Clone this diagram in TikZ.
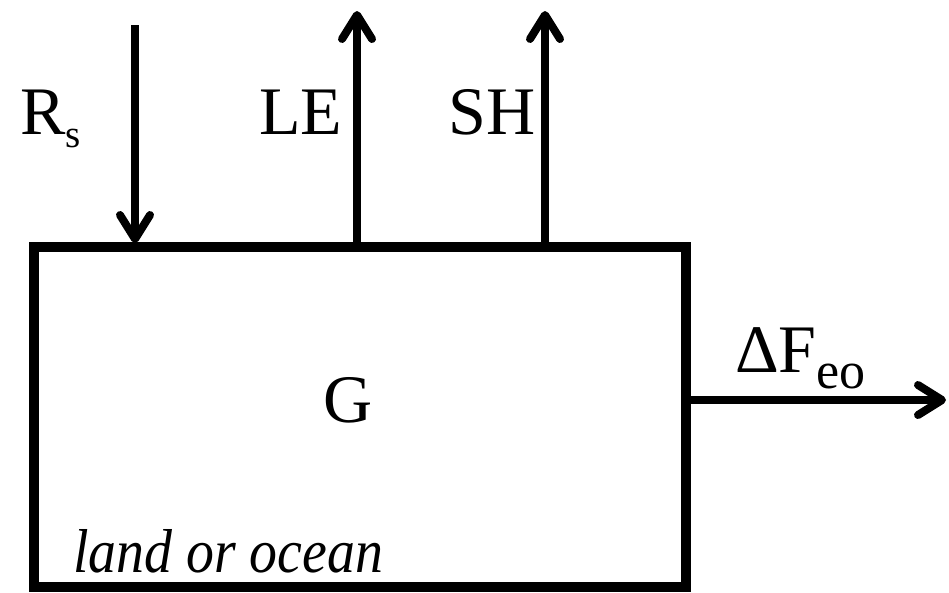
\documentclass[tikz,border=0pt]{standalone}
\usepackage{fontspec}
\setmainfont{Liberation Serif}
\usetikzlibrary{arrows.meta}
\begin{document}
\begin{tikzpicture}[x=1pt,y=-1pt,
  boxst/.style={draw=black,line width=10pt,rectangle,minimum width=652pt,minimum height=340pt,inner sep=0pt},
  arr/.style={line width=8pt,-{Straight Barb[round,length=24pt,width=30pt]}},
  lbl/.style={inner sep=0pt,font=\fontsize{68}{72}\selectfont}]
\useasboundingbox (0,0) rectangle (949,592);
\node[boxst] (box) at (360,417) {};
\coordinate (rsTop) at (135,25);
\coordinate (rsEnd) at (135,243);
\coordinate (leBot) at (357,247);
\coordinate (leTop) at (357,11);
\coordinate (shBot) at (545,247);
\coordinate (shTop) at (545,11);
\coordinate (fBeg) at (686,400);
\coordinate (fEnd) at (946,400);
\draw[arr] (rsTop) -- (rsEnd);
\draw[arr] (leBot) -- (leTop);
\draw[arr] (shBot) -- (shTop);
\draw[arr] (fBeg) -- (fEnd);
\node[lbl,anchor=base west] (rs) at (20,134) {R\raisebox{-13pt}{\fontsize{39}{40}\selectfont s}};
\node[lbl,anchor=base west] (le) at (259,134) {LE};
\node[lbl,anchor=base west] (sh) at (448,134) {SH};
\node[lbl,anchor=base] (g) at (348,422) {G};
\node[lbl,anchor=base west] (df) at (735,372) {ΔF\raisebox{-16pt}{\fontsize{52}{54}\selectfont eo}};
\node[inner sep=0pt,anchor=base west,font=\fontsize{62}{66}\selectfont\itshape] (lo) at (73,572) {\scalebox{0.9}[1]{land or ocean}};
\end{tikzpicture}
\end{document}
